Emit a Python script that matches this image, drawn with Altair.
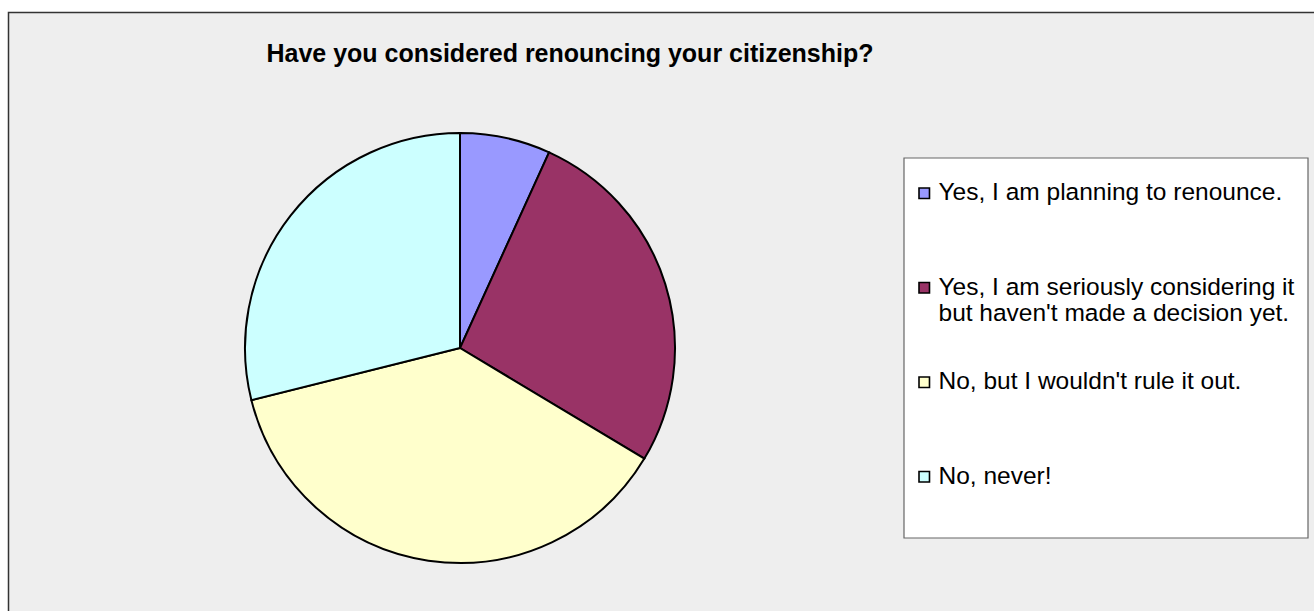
import altair as alt
import pandas as pd

# ---- data ----
legend_labels = [
    "Yes, I am planning to renounce.",
    "Yes, I am seriously considering it|but haven't made a decision yet.",
    "No, but I wouldn't rule it out.",
    "No, never!",
]
values = [6.8, 26.8, 37.5, 28.9]
colors = ["#9999FF", "#993366", "#FFFFCC", "#CCFFFF"]
title_text = "Have you considered renouncing your citizenship?"

W, H = 1314, 611

pie_df = pd.DataFrame({
    "category": legend_labels,
    "value": values,
    "idx": list(range(len(values))),
})
one = pd.DataFrame({"a": [0]})

frame = alt.Chart(one).mark_rect(
    fill="#EEEEEE", stroke="#333333", strokeWidth=1.5, clip=True
).encode(
    x=alt.value(8.5), y=alt.value(12.5), x2=alt.value(W + 50), y2=alt.value(H + 50)
)

legend_box = alt.Chart(one).mark_rect(
    fill="white", stroke="#666666", strokeWidth=1.2
).encode(
    x=alt.value(904), y=alt.value(158), x2=alt.value(1308), y2=alt.value(538)
)

title = alt.Chart(one).mark_text(
    text=title_text, font="Liberation Sans", fontSize=25, fontWeight="bold",
    align="center", baseline="alphabetic", color="black"
).encode(x=alt.value(570), y=alt.value(62))

label_expr = (
    "indexof(datum.label, '|') >= 0 ? split(datum.label, '|') : [datum.label, ' ']"
)

pie = alt.Chart(pie_df).mark_arc(
    stroke="black", strokeWidth=2, outerRadius=215
).encode(
    theta=alt.Theta("value:Q", stack=True),
    order=alt.Order("idx:Q"),
    color=alt.Color(
        "category:N",
        scale=alt.Scale(domain=legend_labels, range=colors),
        sort=legend_labels,
        legend=alt.Legend(
            title=None,
            orient="none",
            legendX=912,
            legendY=181,
            direction="vertical",
            padding=0,
            symbolType="square",
            symbolSize=110,
            symbolStrokeColor="black",
            symbolStrokeWidth=1.6,
            symbolOpacity=1,
            labelFont="Liberation Sans",
            labelFontSize=24.5,
            labelColor="black",
            labelBaseline="middle",
            labelOffset=2,
            labelLimit=600,
            labelExpr=label_expr,
            rowPadding=42.5,
        ),
    ),
    x=alt.value(460),
    y=alt.value(348),
)

chart = alt.layer(frame, legend_box, title, pie).properties(
    width=W, height=H, padding=0, autosize=alt.AutoSizeParams(type="none"),
    background="white",
).configure_view(stroke=None)

chart.save("out.html", embed_options={"renderer": "svg", "actions": False})
